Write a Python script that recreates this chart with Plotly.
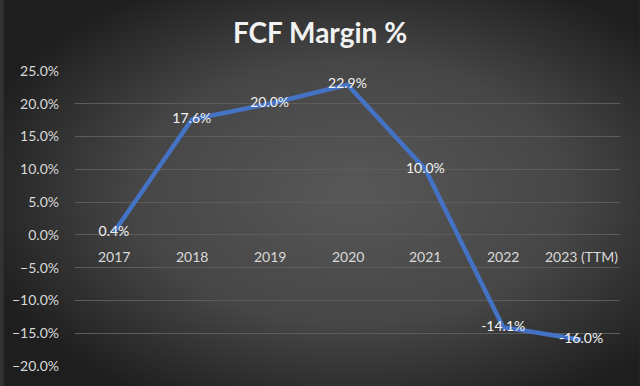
import base64
import plotly.graph_objects as go

categories = ["2017", "2018", "2019", "2020", "2021", "2022", "2023 (TTM)"]
fcf_margin = [0.004, 0.176, 0.200, 0.229, 0.100, -0.141, -0.160]
y_ticks = [-0.20, -0.15, -0.10, -0.05, 0.0, 0.05, 0.10, 0.15, 0.20, 0.25]

W, H = 640, 386
L, R, T, B = 72, 20, 71, 20
pw, ph = W - L - R, H - T - B
FONT = "Lato, Open Sans, sans-serif"

svg = (
    f'<svg xmlns="http://www.w3.org/2000/svg" width="{W}" height="{H}">'
    '<defs><radialGradient id="g" cx="0.55" cy="0.5" r="0.62">'
    '<stop offset="0" stop-color="#585858"/><stop offset="0.55" stop-color="#464646"/>'
    '<stop offset="1" stop-color="#1e1e1e"/></radialGradient></defs>'
    f'<rect width="{W}" height="{H}" fill="url(#g)"/></svg>'
)
bg_uri = "data:image/svg+xml;base64," + base64.b64encode(svg.encode()).decode()

fig = go.Figure()
fig.add_trace(go.Scatter(
    x=list(range(len(categories))), y=fcf_margin, mode="lines+text",
    line=dict(color="#4472C4", width=4.5),
    texttemplate="%{y:.1%}", textposition="middle center",
    textfont=dict(family=FONT, size=14, color="#F2F2F2"),
    hoverinfo="skip", cliponaxis=False,
))

for i, c in enumerate(categories):
    fig.add_annotation(x=i, y=0, yshift=-22, text=c, showarrow=False,
                       font=dict(family=FONT, size=14, color="#D9D9D9"))

fig.update_layout(
    width=W, height=H,
    margin=dict(l=L, r=R, t=T, b=B),
    paper_bgcolor="#333333", plot_bgcolor="rgba(0,0,0,0)",
    showlegend=False,
    title=dict(text="<b>FCF Margin %</b>", x=0.5, xanchor="center", y=1 - 33 / H, yanchor="middle",
               font=dict(family=FONT, size=28, color="#F2F2F2")),
    images=[dict(source=bg_uri, xref="paper", yref="paper",
                 x=-L / pw, y=1 + T / ph, sizex=W / pw, sizey=H / ph,
                 xanchor="left", yanchor="top", sizing="stretch", layer="below")],
    xaxis=dict(type="linear", showticklabels=False, showgrid=False, zeroline=False, showline=False,
               range=[-0.5, len(categories) - 0.5], fixedrange=True),
    yaxis=dict(range=[-0.20, 0.25], tickvals=y_ticks, tickformat=".1%",
               showgrid=True, gridcolor="#5c5c5c", gridwidth=1,
               zeroline=True, zerolinecolor="#5c5c5c", zerolinewidth=1,
               showline=False, ticks="", ticklabelstandoff=15, fixedrange=True,
               tickfont=dict(family=FONT, size=14, color="#D9D9D9")),
)

fig.write_html("out.html", config={"displayModeBar": False, "staticPlot": True},
               post_script="document.body.style.margin='0';")
